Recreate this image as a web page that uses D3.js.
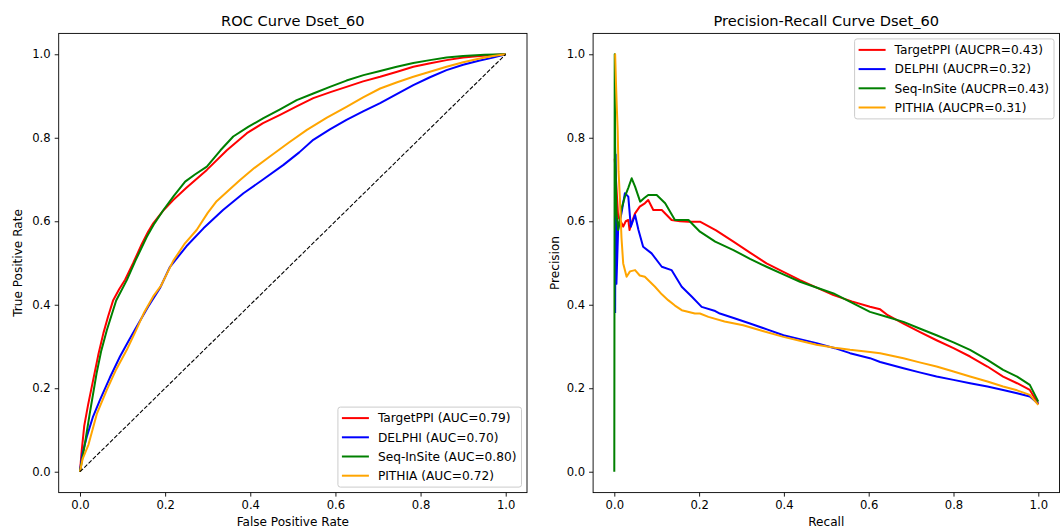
<!DOCTYPE html>
<html>
<head>
<meta charset="utf-8">
<script src="https://cdn.jsdelivr.net/npm/d3@7/dist/d3.min.js"></script>
<style>
  body { margin: 0; background: #fff; }
  svg { display: block; font-family: "DejaVu Sans", sans-serif; }
</style>
</head>
<body>
<script>
// ---- data ----
const methods = ["TargetPPI", "DELPHI", "Seq-InSite", "PITHIA"];
const rocAuc = [0.79, 0.70, 0.80, 0.72];
const prAuc = [0.43, 0.32, 0.43, 0.31];
const tickValues = [0, 0.2, 0.4, 0.6, 0.8, 1.0];

// ROC curves, [fpr, tpr]
const rocTargetPPI = [[0,0],[0.004,0.05],[0.01,0.11],[0.019,0.16],[0.031,0.22],[0.043,0.28],[0.055,0.332],[0.066,0.372],[0.078,0.411],[0.092,0.437],[0.106,0.46],[0.125,0.5],[0.145,0.545],[0.16,0.575],[0.172,0.595],[0.195,0.625],[0.219,0.651],[0.25,0.68],[0.298,0.723],[0.345,0.77],[0.392,0.811],[0.43,0.835],[0.47,0.855],[0.51,0.876],[0.548,0.895],[0.59,0.91],[0.626,0.922],[0.665,0.935],[0.705,0.946],[0.745,0.958],[0.783,0.97],[0.82,0.978],[0.861,0.986],[0.9,0.992],[0.939,0.996],[0.97,0.998],[1,1]];
const rocDELPHI = [[0,0],[0.005,0.04],[0.016,0.084],[0.03,0.13],[0.047,0.172],[0.07,0.225],[0.094,0.276],[0.115,0.315],[0.133,0.347],[0.16,0.395],[0.188,0.44],[0.211,0.49],[0.25,0.54],[0.29,0.583],[0.336,0.627],[0.384,0.667],[0.43,0.7],[0.478,0.735],[0.515,0.765],[0.548,0.795],[0.587,0.82],[0.626,0.843],[0.665,0.863],[0.705,0.883],[0.745,0.905],[0.783,0.926],[0.822,0.945],[0.861,0.962],[0.9,0.975],[0.939,0.985],[0.97,0.992],[1,1]];
const rocSeqInSite = [[0,0],[0.012,0.07],[0.023,0.14],[0.039,0.236],[0.05,0.29],[0.063,0.339],[0.085,0.41],[0.11,0.459],[0.13,0.505],[0.157,0.563],[0.175,0.595],[0.196,0.627],[0.22,0.66],[0.247,0.695],[0.27,0.712],[0.298,0.731],[0.33,0.77],[0.36,0.803],[0.395,0.826],[0.431,0.847],[0.47,0.868],[0.509,0.89],[0.548,0.906],[0.587,0.922],[0.626,0.937],[0.666,0.95],[0.705,0.96],[0.744,0.97],[0.783,0.979],[0.822,0.986],[0.861,0.992],[0.9,0.996],[0.95,0.999],[1,1]];
const rocPITHIA = [[0,0],[0.006,0.03],[0.02,0.065],[0.04,0.14],[0.063,0.196],[0.085,0.245],[0.11,0.292],[0.13,0.335],[0.15,0.38],[0.172,0.42],[0.19,0.445],[0.219,0.505],[0.245,0.545],[0.274,0.579],[0.3,0.62],[0.321,0.648],[0.35,0.675],[0.376,0.699],[0.41,0.728],[0.446,0.755],[0.49,0.788],[0.533,0.819],[0.58,0.848],[0.626,0.874],[0.665,0.897],[0.705,0.918],[0.745,0.933],[0.783,0.946],[0.822,0.958],[0.861,0.97],[0.9,0.981],[0.939,0.99],[0.97,0.996],[1,1]];

// Precision-recall curves, [recall, precision]
const prTargetPPI = [[0.001,0.75],[0.004,0.7],[0.009,0.611],[0.015,0.6],[0.021,0.587],[0.027,0.6],[0.033,0.603],[0.036,0.579],[0.042,0.6],[0.049,0.619],[0.06,0.635],[0.072,0.643],[0.08,0.651],[0.092,0.627],[0.112,0.627],[0.135,0.603],[0.155,0.6],[0.175,0.599],[0.202,0.599],[0.24,0.578],[0.281,0.551],[0.32,0.525],[0.359,0.499],[0.4,0.478],[0.438,0.459],[0.48,0.44],[0.517,0.423],[0.56,0.408],[0.603,0.395],[0.627,0.389],[0.645,0.375],[0.682,0.355],[0.72,0.335],[0.76,0.315],[0.8,0.296],[0.839,0.276],[0.88,0.252],[0.917,0.228],[0.95,0.212],[0.98,0.196],[1,0.162]];
const prDELPHI = [[0.002,0.38],[0.003,0.76],[0.005,0.45],[0.009,0.579],[0.017,0.62],[0.025,0.667],[0.033,0.659],[0.039,0.587],[0.049,0.615],[0.057,0.579],[0.068,0.539],[0.088,0.523],[0.112,0.491],[0.135,0.483],[0.159,0.443],[0.183,0.419],[0.206,0.395],[0.238,0.385],[0.249,0.379],[0.285,0.367],[0.32,0.355],[0.36,0.341],[0.399,0.327],[0.44,0.317],[0.477,0.308],[0.52,0.296],[0.556,0.284],[0.603,0.272],[0.627,0.263],[0.682,0.248],[0.72,0.238],[0.76,0.228],[0.8,0.22],[0.839,0.212],[0.88,0.204],[0.917,0.196],[0.95,0.188],[0.98,0.18],[1,0.163]];
const prSeqInSite = [[0,0],[0.001,1.0],[0.002,0.78],[0.005,0.62],[0.009,0.579],[0.017,0.63],[0.025,0.659],[0.033,0.68],[0.041,0.703],[0.049,0.683],[0.055,0.665],[0.061,0.647],[0.07,0.655],[0.08,0.663],[0.1,0.663],[0.12,0.643],[0.143,0.603],[0.175,0.603],[0.202,0.575],[0.238,0.551],[0.281,0.531],[0.32,0.51],[0.359,0.491],[0.4,0.472],[0.438,0.455],[0.48,0.44],[0.517,0.427],[0.56,0.405],[0.603,0.383],[0.64,0.372],[0.682,0.359],[0.72,0.343],[0.76,0.327],[0.8,0.31],[0.839,0.292],[0.88,0.268],[0.917,0.244],[0.95,0.228],[0.98,0.208],[1,0.168]];
const prPITHIA = [[0.001,1.0],[0.002,1.0],[0.004,0.93],[0.006,0.87],[0.008,0.818],[0.01,0.72],[0.013,0.659],[0.017,0.56],[0.021,0.499],[0.029,0.467],[0.037,0.48],[0.049,0.483],[0.06,0.47],[0.072,0.467],[0.084,0.455],[0.096,0.443],[0.112,0.425],[0.127,0.411],[0.143,0.398],[0.159,0.387],[0.19,0.379],[0.202,0.379],[0.222,0.371],[0.26,0.36],[0.304,0.351],[0.35,0.337],[0.399,0.323],[0.44,0.313],[0.477,0.304],[0.52,0.297],[0.556,0.292],[0.603,0.287],[0.627,0.284],[0.682,0.272],[0.72,0.262],[0.76,0.252],[0.8,0.24],[0.839,0.228],[0.88,0.216],[0.917,0.204],[0.95,0.195],[0.98,0.184],[1,0.16]];

const colours = ["red", "blue", "green", "orange"];


class CurvePlot {
  constructor(svg, box) {
    this.box = box;
    this.g = svg.append("g");

    this.x = d3.scaleLinear().domain([-0.05, 1.05]).range([box.left, box.right]);
    this.y = d3.scaleLinear().domain([-0.05, 1.05]).range([box.bottom, box.top]);

    this.line = d3.line()
      .x(d => this.x(d[0]))
      .y(d => this.y(d[1]));
  };

  axes(title, xLabel, yLabel, yLabelX) {
    var box = this.box;
    var fmt = d3.format(".1f");

    var xAxis = this.g.append("g")
      .attr("transform", "translate(0," + box.bottom + ")")
      .call(d3.axisBottom(this.x).tickValues(tickValues).tickFormat(fmt).tickSize(4).tickPadding(4));

    var yAxis = this.g.append("g")
      .attr("transform", "translate(" + box.left + ",0)")
      .call(d3.axisLeft(this.y).tickValues(tickValues).tickFormat(fmt).tickSize(4).tickPadding(4));

    [xAxis, yAxis].forEach(function(a) {
      a.select(".domain").remove();
      a.selectAll("text").attr("font-size", 11.6).attr("fill", "#000").attr("font-family", "DejaVu Sans");
      a.selectAll("line").attr("stroke", "#000").attr("stroke-width", 0.9);
    });

    this.g.append("rect")
      .attr("x", box.left)
      .attr("y", box.top)
      .attr("width", box.right - box.left)
      .attr("height", box.bottom - box.top)
      .attr("fill", "none")
      .attr("stroke", "#000")
      .attr("stroke-width", 0.9);

    this.g.append("text")
      .attr("x", (box.left + box.right) / 2)
      .attr("y", 26)
      .attr("text-anchor", "middle")
      .attr("font-size", 14.6)
      .text(title);

    this.g.append("text")
      .attr("x", (box.left + box.right) / 2)
      .attr("y", 525.5)
      .attr("text-anchor", "middle")
      .attr("font-size", 12.1)
      .text(xLabel);

    this.g.append("text")
      .attr("transform", "translate(" + yLabelX + "," + (box.top + box.bottom) / 2 + ") rotate(-90)")
      .attr("text-anchor", "middle")
      .attr("font-size", 12.1)
      .text(yLabel);
  };

  plot(series) {
    var self = this;
    series.forEach(function(points, i) {
      self.g.append("path")
        .datum(points)
        .attr("d", self.line)
        .attr("fill", "none")
        .attr("stroke", colours[i])
        .attr("stroke-width", 2)
        .attr("stroke-linejoin", "round");
    });
  };

  diagonal() {
    this.g.append("path")
      .datum([[0, 0], [1, 1]])
      .attr("d", this.line)
      .attr("fill", "none")
      .attr("stroke", "#000")
      .attr("stroke-width", 1.1)
      .attr("stroke-dasharray", "4.2,1.8");
  };

  // matplotlib style legend, anchored in a corner of the axes
  legend(labels, corner) {
    var box = this.box;
    var rowH = 19.2, pad = 5.5, height = 80;
    var lg = this.g.append("g");

    var frame = lg.append("rect")
      .attr("rx", 2.5)
      .attr("fill", "#fff")
      .attr("fill-opacity", 0.8)
      .attr("stroke", "#ccc")
      .attr("stroke-width", 1);

    var texts = lg.selectAll("text.lbl")
      .data(labels)
      .enter()
        .append("text")
          .attr("class", "lbl")
          .attr("font-size", 12.2)
          .attr("dy", "0.35em")
          .text(d => d);

    var maxW = d3.max(texts.nodes(), n => n.getComputedTextLength());
    var width = 40 + maxW + 5;
    var left = box.right - pad - width;
    var top = corner === "upper right" ? box.top + pad : box.bottom - pad - height;

    frame.attr("x", left).attr("y", top).attr("width", width).attr("height", height);

    texts
      .attr("x", left + 40)
      .attr("y", (d, i) => top + 11 + i * rowH);

    labels.forEach(function(d, i) {
      lg.append("line")
        .attr("x1", left + 4)
        .attr("x2", left + 31)
        .attr("y1", top + 11 + i * rowH)
        .attr("y2", top + 11 + i * rowH)
        .attr("stroke", colours[i])
        .attr("stroke-width", 2);
    });
  };
};


var svg = d3.select("body")
  .append("svg")
    .attr("width", 1062)
    .attr("height", 528);

var roc = new CurvePlot(svg, {left: 58.7, right: 527, top: 33.4, bottom: 492.6});
roc.axes("ROC Curve Dset_60", "False Positive Rate", "True Positive Rate", 22);
roc.plot([rocTargetPPI, rocDELPHI, rocSeqInSite, rocPITHIA]);
roc.diagonal();
roc.legend(methods.map((m, i) => m + " (AUC=" + rocAuc[i].toFixed(2) + ")"), "lower right");

var pr = new CurvePlot(svg, {left: 593.1, right: 1059.5, top: 33.4, bottom: 492.6});
pr.axes("Precision-Recall Curve Dset_60", "Recall", "Precision", 559);
pr.plot([prTargetPPI, prDELPHI, prSeqInSite, prPITHIA]);
pr.legend(methods.map((m, i) => m + " (AUCPR=" + prAuc[i].toFixed(2) + ")"), "upper right");
</script>
</body>
</html>
